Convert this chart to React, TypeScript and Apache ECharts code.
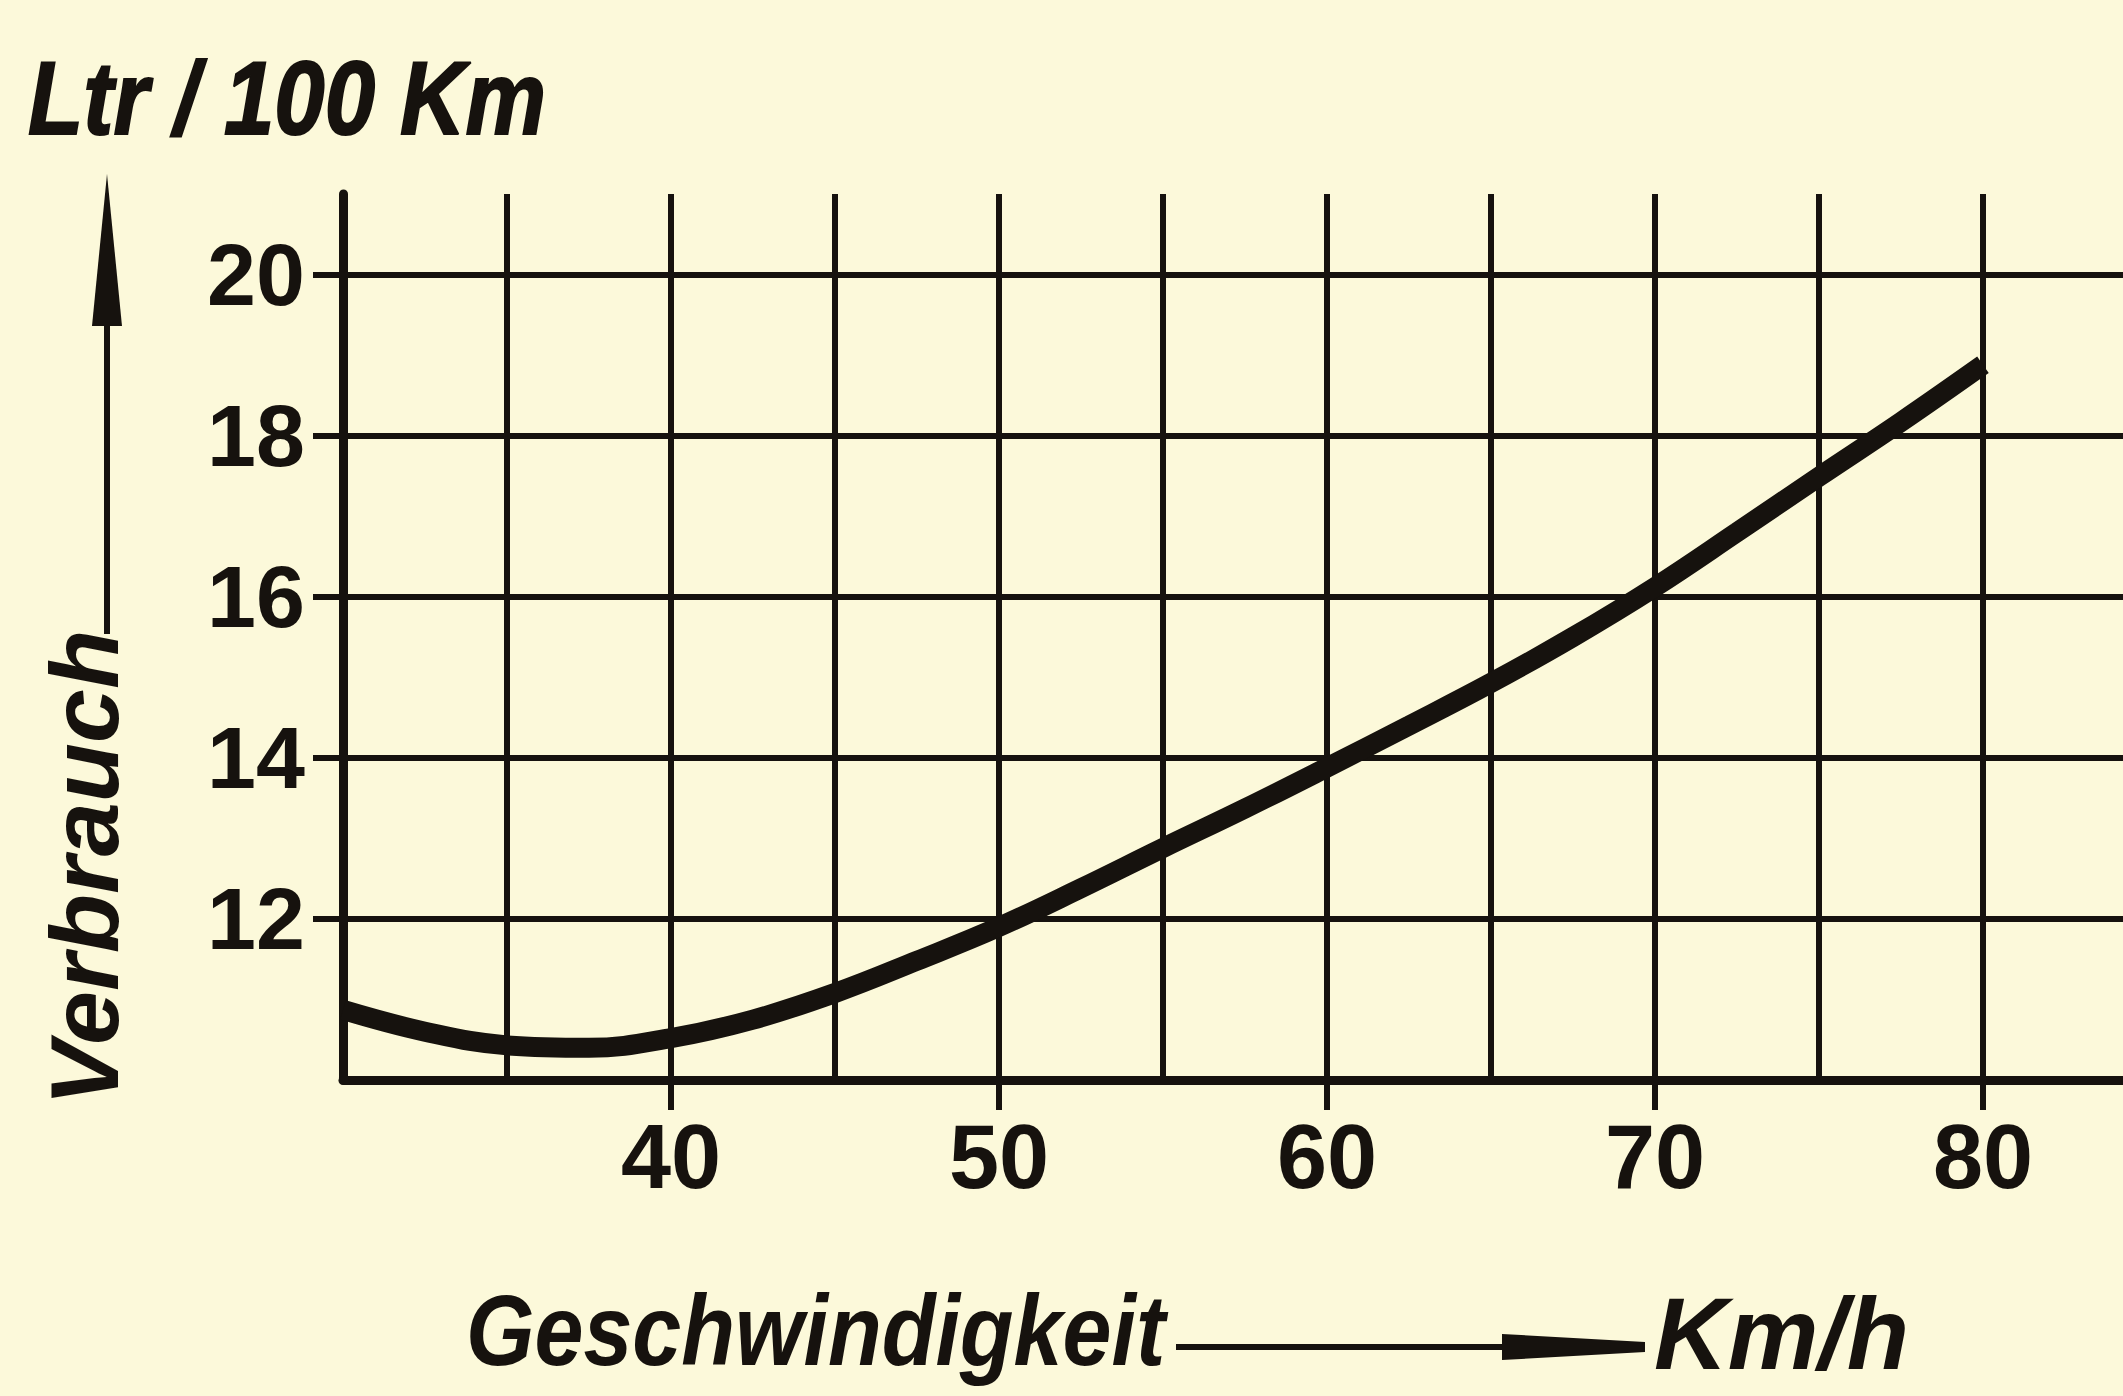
import React, { useEffect, useRef } from "react";
import * as echarts from "echarts";

// Data
const speedKmh = [30, 32.5, 35, 37.5, 40, 42.5, 45, 47.5, 50, 52.5, 55, 57.5, 60, 62.5, 65, 67.5, 70, 72.5, 75, 77.5, 80];
const consumption = [10.87, 10.6, 10.43, 10.4, 10.52, 10.75, 11.08, 11.48, 11.9, 12.38, 12.88, 13.37, 13.88, 14.4, 14.93, 15.5, 16.12, 16.8, 17.49, 18.17, 18.88];
const xTickLabels = [40, 50, 60, 70, 80];
const yTickLabels = [12, 14, 16, 18, 20];

const INK = "#16120e";
const PAPER = "#fcf9da";
const LABEL_FONT = "'Liberation Sans Narrow', 'Liberation Sans', Arial, sans-serif";
const TITLE_FONT = "'Liberation Sans', Arial, sans-serif";

const X_MIN = 30;
const X_MAX = 84.27;
const Y_MIN = 10;
const Y_MAX = 21;

export default function App() {
  const ref = useRef<HTMLDivElement>(null);

  useEffect(() => {
    document.body.style.margin = "0";
    const chart = echarts.init(ref.current!, undefined, { renderer: "svg" });
    const data = speedKmh.map((s, i) => [s, consumption[i]]);

    chart.setOption({
      animation: false,
      backgroundColor: PAPER,
      grid: {
        left: 343,
        right: 0,
        top: 194,
        bottom: 316,
        containLabel: false,
        outerBoundsMode: "none",
      },
      xAxis: [
        {
          type: "value",
          position: "bottom",
          min: X_MIN,
          max: X_MAX,
          interval: 5,
          axisLine: { show: true, onZero: false, lineStyle: { color: INK, width: 9 } },
          axisTick: { show: false },
          axisLabel: { show: false },
          splitLine: {
            show: true,
            showMinLine: false,
            showMaxLine: false,
            lineStyle: { color: INK, width: 6 },
          },
        },
        {
          type: "value",
          position: "bottom",
          min: X_MIN,
          max: X_MAX,
          axisLine: { show: false, onZero: false },
          axisTick: {
            show: true,
            customValues: xTickLabels,
            length: 30,
            lineStyle: { color: INK, width: 6 },
          },
          axisLabel: {
            customValues: xTickLabels,
            margin: 32,
            color: INK,
            fontFamily: LABEL_FONT,
            fontWeight: "bold",
            fontSize: 90,
          },
          splitLine: { show: false },
        },
      ],
      yAxis: [
        {
          type: "value",
          position: "left",
          min: Y_MIN,
          max: Y_MAX,
          interval: 2,
          axisLine: { show: true, onZero: false, lineStyle: { color: INK, width: 9 } },
          axisTick: { show: false },
          axisLabel: { show: false },
          splitLine: {
            show: true,
            showMinLine: false,
            showMaxLine: false,
            lineStyle: { color: INK, width: 6 },
          },
        },
        {
          type: "value",
          position: "left",
          min: Y_MIN,
          max: Y_MAX,
          axisLine: { show: false, onZero: false },
          axisTick: {
            show: true,
            customValues: yTickLabels,
            length: 30,
            lineStyle: { color: INK, width: 6 },
          },
          axisLabel: {
            customValues: yTickLabels,
            margin: 38,
            color: INK,
            fontFamily: LABEL_FONT,
            fontWeight: "bold",
            fontSize: 88,
          },
          splitLine: { show: false },
        },
      ],
      series: [
        {
          type: "line",
          xAxisIndex: 0,
          yAxisIndex: 0,
          data,
          smooth: 0.4,
          symbol: "none",
          lineStyle: { color: INK, width: 20, cap: "butt" },
        },
      ],
      graphic: [
        {
          type: "text",
          x: 28,
          y: 98,
          scaleX: 0.87,
          style: {
            text: "Ltr / 100 Km",
            fill: INK,
            font: `italic bold 104px ${TITLE_FONT}`,
            align: "left",
            verticalAlign: "middle",
            stroke: INK,
            lineWidth: 2,
          },
        },
        {
          type: "text",
          x: 84,
          y: 1106,
          rotation: Math.PI / 2,
          style: {
            text: "Verbrauch",
            fill: INK,
            font: `italic bold 97px ${TITLE_FONT}`,
            align: "left",
            verticalAlign: "middle",
          },
        },
        {
          type: "line",
          shape: { x1: 107, y1: 634, x2: 107, y2: 320 },
          style: { stroke: INK, lineWidth: 6 },
        },
        {
          type: "polygon",
          shape: { points: [[107, 174], [92, 326], [122, 326]] },
          style: { fill: INK },
        },
        {
          type: "text",
          x: 466,
          y: 1330,
          scaleX: 0.88,
          style: {
            text: "Geschwindigkeit",
            fill: INK,
            font: `italic bold 100px ${TITLE_FONT}`,
            align: "left",
            verticalAlign: "middle",
          },
        },
        {
          type: "line",
          shape: { x1: 1176, y1: 1347, x2: 1510, y2: 1347 },
          style: { stroke: INK, lineWidth: 6 },
        },
        {
          type: "polygon",
          shape: { points: [[1502, 1334], [1645, 1342], [1645, 1352], [1502, 1360]] },
          style: { fill: INK },
        },
        {
          type: "text",
          x: 1654,
          y: 1334,
          style: {
            text: "Km/h",
            fill: INK,
            font: `italic bold 102px ${TITLE_FONT}`,
            align: "left",
            verticalAlign: "middle",
          },
        },
      ],
    });

    return () => chart.dispose();
  }, []);

  return (
    <div
      ref={ref}
      style={{ position: "absolute", left: 0, top: 0, width: 2123, height: 1396 }}
    />
  );
}
